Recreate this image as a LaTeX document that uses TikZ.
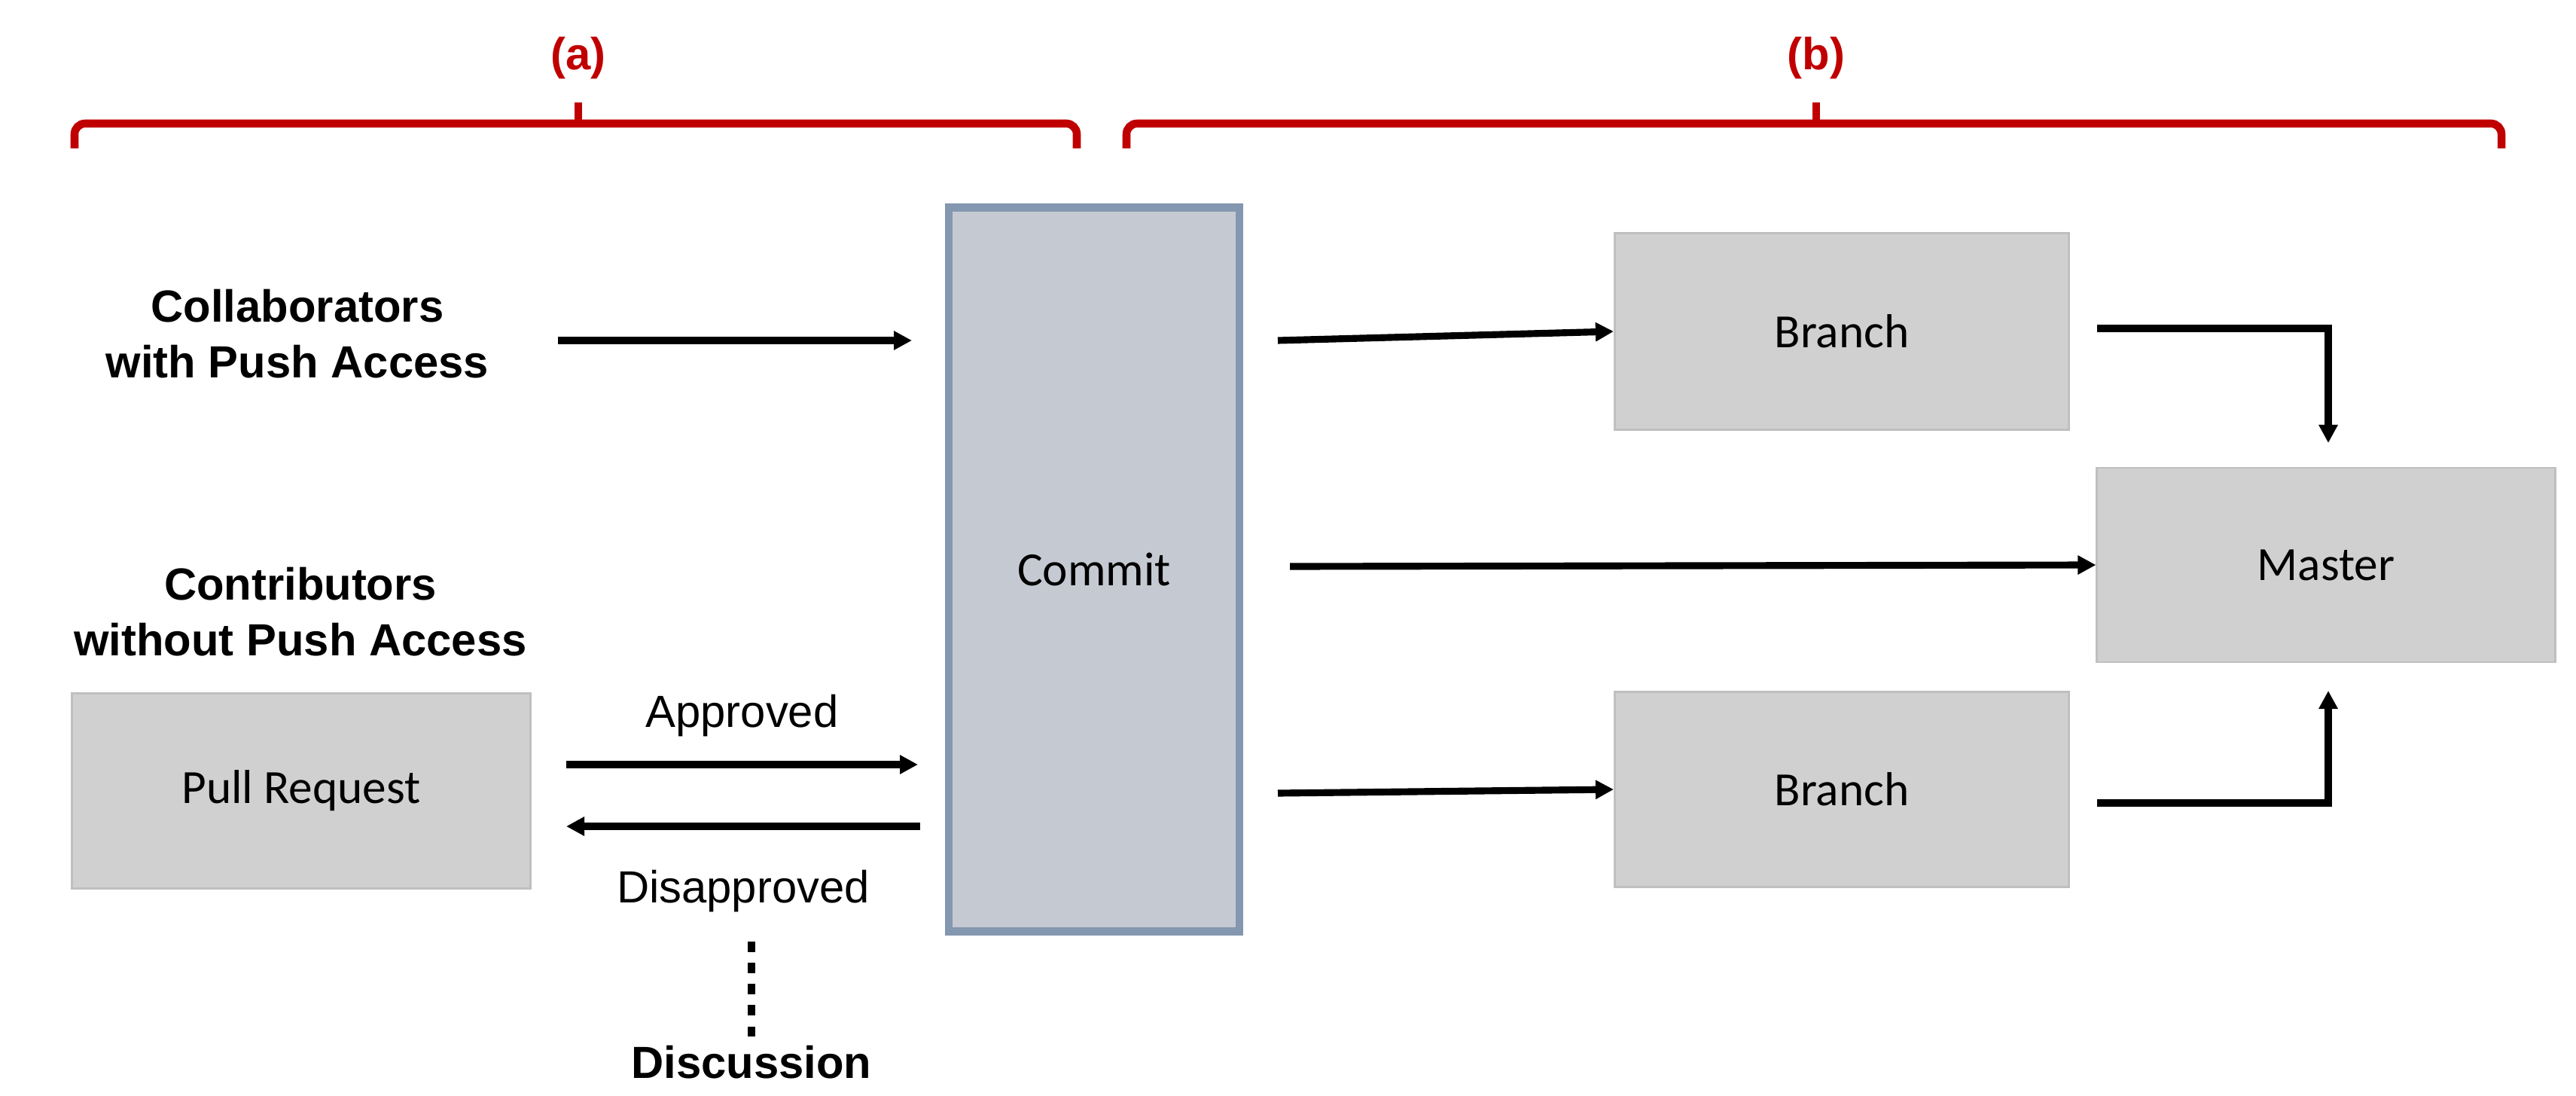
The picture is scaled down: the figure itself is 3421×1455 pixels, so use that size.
\documentclass[tikz,border=0pt]{standalone}
\usepackage{fontspec}
\setmainfont{Liberation Sans}
\newfontfamily\calfont{Carlito}
\usetikzlibrary{arrows.meta}
\definecolor{bred}{HTML}{C00000}
\definecolor{boxg}{HTML}{D0D0D0}
\definecolor{boxb}{HTML}{BFBFBF}
\definecolor{cfill}{HTML}{C5CAD2}
\definecolor{cline}{HTML}{8497B0}
\begin{document}
\begin{tikzpicture}[x=0.01cm,y=-0.01cm,
  arr/.style={line width=2.6pt,-{Triangle[length=0.24cm,width=0.24cm]}},
  gbox/.style={draw=boxb,fill=boxg,line width=0.8pt,font=\calfont\fontsize{18}{21}\selectfont},
  blab/.style={font=\bfseries\fontsize{17}{21}\selectfont,align=center},
  nlab/.style={font=\fontsize{17}{20}\selectfont},
  brace/.style={draw=bred,line width=3pt,rounded corners=4pt},
  rlab/.style={font=\bfseries\fontsize{17}{20}\selectfont,text=bred}]
\useasboundingbox (0,0) rectangle (3421,1455);
% braces
\draw[brace] (99,197) -- (99,164) -- (1430,164) -- (1430,197);
\draw[bred,line width=3pt] (768,164) -- (768,136);
\draw[brace] (1496,197) -- (1496,164) -- (3322,164) -- (3322,197);
\draw[bred,line width=3pt] (2412,164) -- (2412,136);
\node[rlab] (la) at (768,77) {(a)};
\node[rlab] (lb) at (2412,77) {(b)};
% nodes
\node[blab] (coll) at (395,443) {Collaborators\\with Push Access};
\node[blab] (contr) at (399,812) {Contributors\\without Push Access};
\node[gbox,minimum width=6.08cm,minimum height=2.59cm] (pr) at (400,1050) {Pull Request};
\node[draw=cline,fill=cfill,line width=3pt,minimum width=3.86cm,minimum height=9.6cm,font=\calfont\fontsize{18}{21}\selectfont] (commit) at (1453,756) {Commit};
\node[gbox,minimum width=6.03cm,minimum height=2.61cm] (b1) at (2446,440) {Branch};
\node[gbox,minimum width=6.03cm,minimum height=2.59cm] (b2) at (2446,1048) {Branch};
\node[gbox,minimum width=6.08cm,minimum height=2.58cm] (master) at (3089,750) {Master};
\node[blab] (disc) at (998,1410) {Discussion};
\coordinate (c1) at (741,452); \coordinate (c2) at (1211,452);
\coordinate (ap1) at (752,1015); \coordinate (ap2) at (1219,1015);
\coordinate (dp1) at (1222,1097); \coordinate (dp2) at (752,1097);
% arrows
\draw[arr] (c1) -- (c2);
\draw[arr] (ap1) -- node[nlab,above=6pt] (appr) {Approved} (ap2);
\draw[arr] (dp1) -- node[nlab,below=12pt] (disappr) {Disapproved} (dp2);
\draw[line width=3pt,dash pattern=on 4pt off 4pt] (998,1250) -- (disc.north);
\draw[arr] (1697,452) -- (b1.west);
\draw[arr] (1713,752) -- (master.west);
\draw[arr] (1697,1053) -- (b2.west);
\draw[arr] (2785,436) -- (3092,436) -- (3092,588);
\draw[arr] (2785,1066) -- (3092,1066) -- (3092,917);
\end{tikzpicture}
\end{document}
